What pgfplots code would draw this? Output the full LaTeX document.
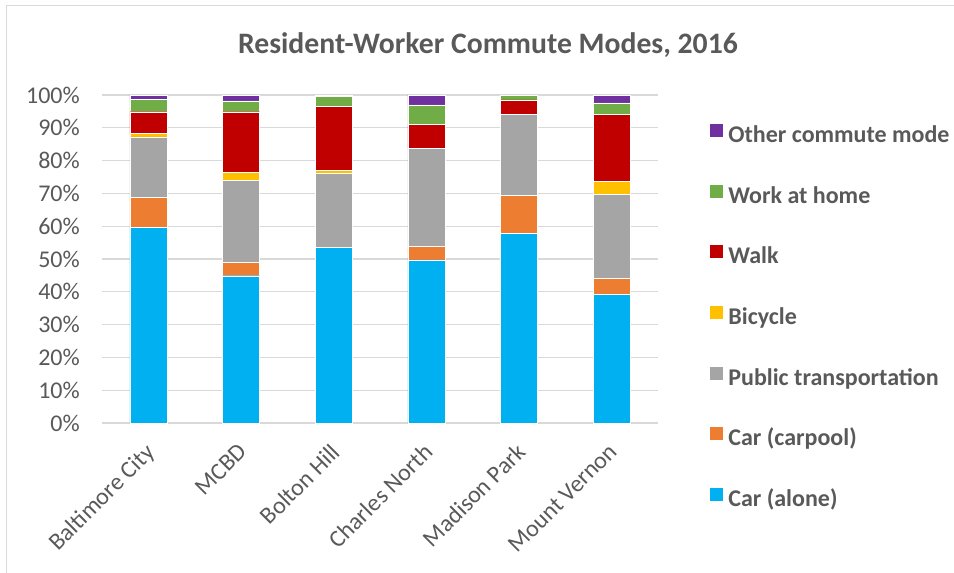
\documentclass[border=0pt]{standalone}
\usepackage{fontspec}
\setmainfont{Carlito}
\usepackage{pgfplots}
\usepackage{pgfplotstable}
\pgfplotsset{compat=1.18}
\definecolor{txt}{HTML}{595959}
\definecolor{gridc}{HTML}{D9D9D9}
\definecolor{calone}{HTML}{00B0F0}
\definecolor{cpool}{HTML}{ED7D31}
\definecolor{pubt}{HTML}{A5A5A5}
\definecolor{bike}{HTML}{FFC000}
\definecolor{walkc}{HTML}{C00000}
\definecolor{home}{HTML}{70AD47}
\definecolor{otherc}{HTML}{7030A0}
\pgfplotstableread{
x alone pool pub bike walk home other
0 59.7 9.1 18.4 1.1 6.6 3.7 1.4
1 44.9 4.0 25.0 2.5 18.5 3.3 1.8
2 53.6 0.0 22.5 1.0 19.4 3.0 0.5
3 49.7 4.1 29.9 0.0 7.4 5.9 3.0
4 57.9 11.5 24.6 0.0 4.5 1.4 0.1
5 39.3 4.8 25.7 3.9 20.4 3.5 2.4
}\data
\begin{document}
\begin{tikzpicture}
\path[use as bounding box] (0pt,0pt) rectangle (954pt,-573pt);
\draw[gridc, line width=1pt] (6pt,-573pt) -- (6pt,-5pt) -- (954pt,-5pt);
\node[text=txt, font=\fontsize{29.7}{36}\selectfont\bfseries] at (488pt,-45pt) {Resident-Worker Commute Modes, 2016};
\begin{axis}[
  at={(102pt,-423pt)}, anchor=south west,
  scale only axis, width=556pt, height=328pt,
  ybar stacked, bar width=37pt,
  xmin=-0.5, xmax=5.5, ymin=0, ymax=100,
  xtick={0,...,5},
  xticklabels={Baltimore City, MCBD, Bolton Hill, Charles North, Madison Park, Mount Vernon},
  ytick={0,10,...,100},
  yticklabel={\pgfmathprintnumber{\tick}\%},
  /pgf/number format/assume math mode=true,
  ymajorgrids, grid style={gridc, line width=1.3pt},
  axis line style={draw=none},
  major tick length=0pt, tick style={draw=none},
  ticklabel style={font=\fontsize{24}{29}\selectfont, text=txt},
  yticklabel style={anchor=east, inner sep=0pt, xshift=-22pt},
  xticklabel style={xshift=-4pt, yshift=-19pt, rotate=45, anchor=north east, inner sep=0pt},
  every axis plot/.append style={draw=white, line width=0.4pt},
  legend image code/.code={\fill[#1] (0pt,0pt) rectangle (14pt,14pt);},
  reverse legend,
  legend cell align=left,
  legend style={at={(1.0917,0.9146)}, anchor=north west, draw=none, fill=none,
    inner sep=0pt, outer sep=0pt, row sep=36.2pt, column sep=5pt,
    font=\fontsize{24}{29}\selectfont\bfseries, text=txt,
    nodes={inner sep=0pt, text height=15.5pt, text depth=5pt}},
]
\addplot[fill=calone] table[x=x,y=alone] {\data};
\addplot[fill=cpool] table[x=x,y=pool] {\data};
\addplot[fill=pubt] table[x=x,y=pub] {\data};
\addplot[fill=bike] table[x=x,y=bike] {\data};
\addplot[fill=walkc] table[x=x,y=walk] {\data};
\addplot[fill=home] table[x=x,y=home] {\data};
\addplot[fill=otherc] table[x=x,y=other] {\data};
\legend{Car (alone), Car (carpool), Public transportation, Bicycle, Walk, Work at home, Other commute mode}
\end{axis}
\end{tikzpicture}
\end{document}
